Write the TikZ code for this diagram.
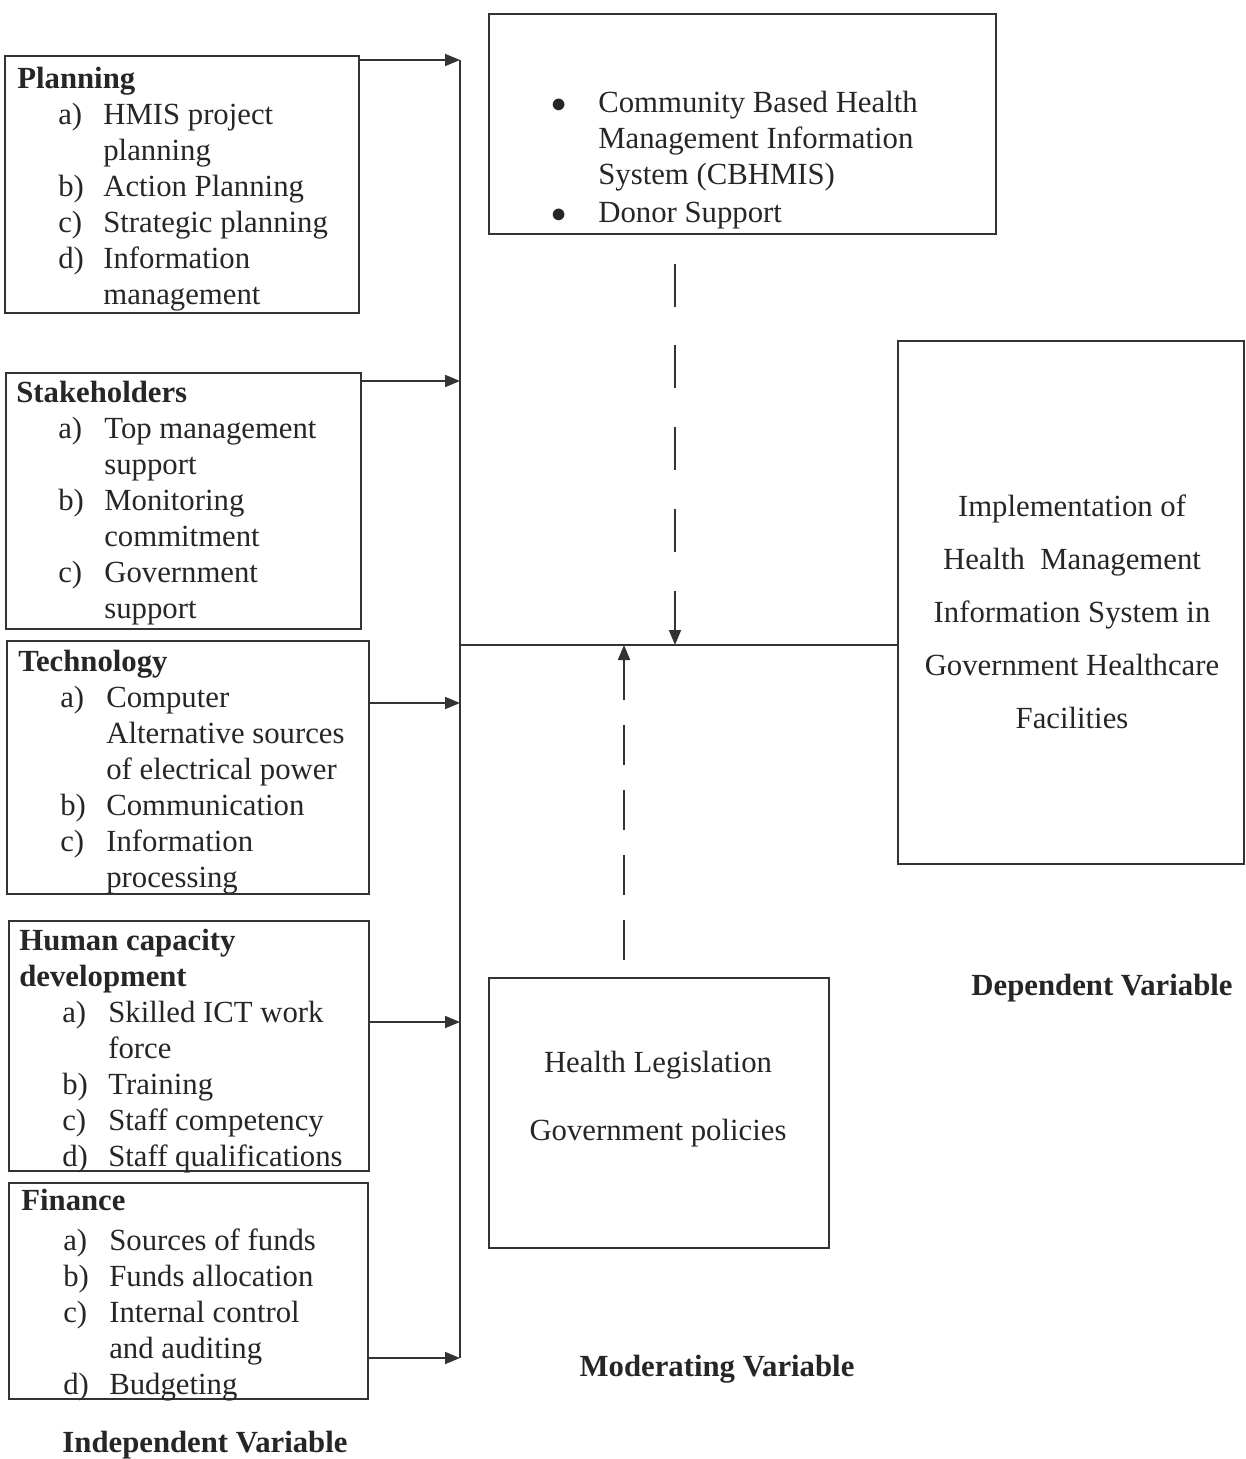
\documentclass[tikz,border=0pt]{standalone}
\usepackage{fontspec}
\setmainfont{Liberation Serif}
\usetikzlibrary{arrows.meta,calc}
\newcommand{\fs}{\fontsize{17.5}{20.5}\selectfont}
\newcommand{\hd}[1]{\multicolumn{2}{@{}l@{}}{\textbf{#1}}}
\tikzset{
	box/.style={draw=black!80, line width=1pt, anchor=north west, inner sep=0pt},
	txt/.style={anchor=north west, inner sep=0pt, align=left},
	ln/.style={draw=black!80, line width=1pt},
	tip/.style={-{Triangle[length=0.3cm,width=0.24cm]}}
}

\begin{document}
\begin{tikzpicture}[x=0.02cm, y=-0.02cm, every node/.style={font=\fs, text=black!85}]
	\useasboundingbox (0,0) rectangle (1245,1459);

	\node[box, minimum width=7.08cm, minimum height=5.14cm] (plan) at (4,55) {};
	\node[box, minimum width=7.10cm, minimum height=5.12cm] (stake) at (5,372) {};
	\node[box, minimum width=7.24cm, minimum height=5.06cm] (tech) at (6,640) {};
	\node[box, minimum width=7.20cm, minimum height=5.00cm] (human) at (8,920) {};
	\node[box, minimum width=7.18cm, minimum height=4.32cm] (fin) at (8,1182) {};
	\node[box, minimum width=10.14cm, minimum height=4.40cm] (cbh) at (488,13) {};
	\node[box, minimum width=6.92cm, minimum height=10.46cm] (impl) at (897,340) {};
	\node[box, minimum width=6.80cm, minimum height=5.40cm] (legis) at (488,977) {};

	\node[txt] (plantxt) at (17,63) {\begin{tabular}{@{\hspace{0.82cm}}p{0.9cm}@{}l@{}}
		\hd{Planning}\\
		a) & HMIS project\\
		 & planning\\
		b) & Action Planning\\
		c) & Strategic planning\\
		d) & Information\\
		 & management
	\end{tabular}};
	\node[txt] (staketxt) at (16,377) {\begin{tabular}{@{\hspace{0.84cm}}p{0.92cm}@{}l@{}}
		\hd{Stakeholders}\\
		a) & Top management\\
		 & support\\
		b) & Monitoring\\
		 & commitment\\
		c) & Government\\
		 & support
	\end{tabular}};
	\node[txt] (techtxt) at (18,646) {\begin{tabular}{@{\hspace{0.84cm}}p{0.92cm}@{}l@{}}
		\hd{Technology}\\
		a) & Computer\\
		 & Alternative sources\\
		 & of electrical power\\
		b) & Communication\\
		c) & Information\\
		 & processing
	\end{tabular}};
	\node[txt] (humantxt) at (19,925) {\begin{tabular}{@{\hspace{0.86cm}}p{0.92cm}@{}l@{}}
		\hd{Human capacity}\\
		\hd{development}\\
		a) & Skilled ICT work\\
		 & force\\
		b) & Training\\
		c) & Staff competency\\
		d) & Staff qualifications
	\end{tabular}};
	\node[txt] (fintxt) at (21,1185) {\begin{tabular}{@{\hspace{0.84cm}}p{0.92cm}@{}l@{}}
		\hd{Finance}\\[2pt]
		a) & Sources of funds\\
		b) & Funds allocation\\
		c) & Internal control\\
		 & and auditing\\
		d) & Budgeting
	\end{tabular}};
	\node[txt] (cbhtxt) at (551,87) {\begin{tabular}{@{}p{0.94cm}@{}l@{}}
		$\bullet$ & Community Based Health\\
		 & Management Information\\
		 & System (CBHMIS)\\[1pt]
		$\bullet$ & Donor Support
	\end{tabular}};
	\node[anchor=north, inner sep=0pt, align=center, font=\fontsize{17.5}{30.3}\selectfont] (impltxt) at (1072,494)
		{Implementation of\\Health~ Management\\Information System in\\Government Healthcare\\Facilities};
	\node[anchor=north, inner sep=0pt, align=center, font=\fontsize{17.5}{38.6}\selectfont] (legistxt) at (658,1051)
		{Health Legislation\\Government policies};

	\node[anchor=base, inner sep=0pt, font=\fs\bfseries] (indep) at (205,1452) {Independent Variable};
	\node[anchor=base, inner sep=0pt, font=\fs\bfseries] (moder) at (717,1376) {Moderating Variable};
	\node[anchor=base, inner sep=0pt, font=\fs\bfseries] (dep) at (1102,995) {Dependent Variable};

	\coordinate (b1) at (460,60);
	\coordinate (b2) at (460,381);
	\coordinate (b3) at (460,703);
	\coordinate (b4) at (460,1022);
	\coordinate (b5) at (460,1358);
	\coordinate (j0) at (460,645);
	\coordinate (j1) at (675,645);
	\coordinate (j2) at (624,645);

	\draw[ln] (b1) -- (b5);
	\draw[ln, tip] (plan.east |- b1) -- (b1);
	\draw[ln, tip] (stake.east |- b2) -- (b2);
	\draw[ln, tip] (tech.east |- b3) -- (b3);
	\draw[ln, tip] (human.east |- b4) -- (b4);
	\draw[ln, tip] (fin.east |- b5) -- (b5);
	\draw[ln] (j0) -- (impl.west |- j0);
	\draw[ln, tip, dash pattern=on 0.86cm off 0.775cm, shorten <=0.58cm] (cbh.south -| j1) -- (j1);
	\draw[ln, tip, dash pattern=on 0.8cm off 0.5cm, shorten <=0.34cm] (legis.north -| j2) -- (j2);
\end{tikzpicture}
\end{document}
